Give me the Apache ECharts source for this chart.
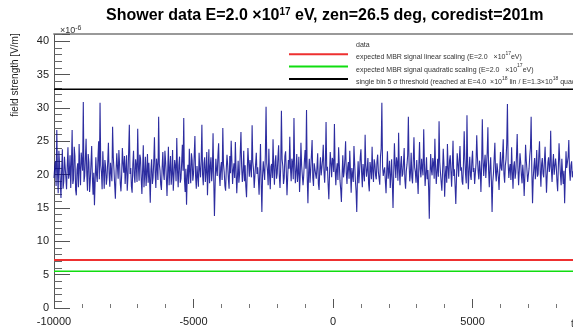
<!DOCTYPE html>
<html>
<head>
<meta charset="utf-8">
<script src="https://cdn.jsdelivr.net/npm/echarts@6/dist/echarts.min.js"></script>
<style>
  html, body { margin: 0; padding: 0; background: #fff; }
  #chart { width: 573px; height: 334px; }
</style>
</head>
<body>
<div id="chart"></div>
<script>
// sampled field strength trace (x 1e-6 V/m), one value every 25 time units
var tStart = -10000;
var tStep = 25;
var tEnd = 8600;
var fieldValues = [
  19.5, 21.1, 22.0, 18.3, 26.7, 20.4, 17.2, 23.6, 21.5, 18.8, 16.5, 20.9, 23.8, 17.9, 19.0, 22.7, 22.4, 19.6, 17.8, 21.3,
  24.1, 19.4, 20.2, 22.9, 18.0, 21.5, 26.7, 18.6, 19.3, 24.2, 22.8, 17.7, 16.9, 20.8, 21.7, 18.1, 24.6, 21.0, 18.4, 23.3,
  23.0, 20.6, 30.9, 18.9, 19.8, 22.4, 25.4, 20.1, 17.6, 23.1, 21.9, 17.4, 19.1, 21.6, 24.3, 19.7, 17.0, 20.3, 15.4, 19.2,
  22.6, 20.0, 18.9, 22.5, 25.0, 19.3, 30.8, 21.4, 20.4, 17.8, 23.5, 20.7, 17.9, 22.2, 21.2, 18.5, 19.6, 21.9, 24.8, 20.2,
  18.2, 21.8, 22.1, 19.0, 27.2, 22.6, 20.7, 18.4, 16.4, 20.5, 23.2, 21.1, 19.4, 23.7, 21.6, 18.7, 17.5, 20.0, 24.0, 21.7,
  20.3, 22.8, 18.6, 20.9, 22.9, 17.6, 19.7, 23.4, 27.5, 20.1, 21.0, 18.2, 17.3, 21.5, 23.6, 19.9, 18.8, 22.3, 21.4, 18.9,
  26.9, 21.2, 19.1, 23.0, 22.5, 19.5, 17.1, 20.6, 24.4, 18.1, 20.0, 22.7, 18.3, 20.4, 23.1, 18.8, 21.8, 19.4, 15.8, 20.8,
  22.3, 18.6, 19.5, 21.9, 25.6, 20.3, 18.0, 22.4, 21.1, 19.2, 28.7, 21.6, 20.6, 18.5, 17.7, 21.0, 23.4, 20.2, 19.2, 23.6,
  22.0, 19.7, 16.8, 20.5, 24.2, 18.4, 20.9, 22.8, 18.5, 20.1, 23.7, 17.6, 19.9, 22.2, 21.3, 19.0, 25.5, 20.7, 18.1, 21.4,
  22.7, 18.8, 19.4, 21.8, 24.5, 20.6, 28.5, 19.3, 17.4, 20.9, 15.5, 19.8, 21.5, 18.6, 23.9, 20.4, 18.7, 23.2, 22.2, 19.1,
  20.1, 22.9, 25.8, 19.7, 17.9, 21.3, 21.0, 18.2, 23.3, 20.8, 19.6, 22.1, 27.5, 20.0, 18.4, 21.7, 22.6, 18.9, 20.5, 23.4,
  16.9, 20.3, 23.8, 18.7, 21.2, 22.6, 19.0, 20.6, 26.2, 19.4, 13.8, 18.5, 22.4, 20.7, 19.8, 22.9, 24.7, 19.9, 18.3, 21.1,
  21.9, 19.2, 27.0, 21.5, 20.4, 18.3, 17.6, 20.9, 23.0, 21.4, 19.3, 17.9, 22.8, 20.2, 25.1, 22.0, 18.6, 20.7, 21.7, 19.5,
  24.9, 20.6, 17.2, 19.8, 22.1, 18.8, 20.0, 23.3, 26.4, 21.2, 18.9, 20.5, 23.6, 19.0, 21.4, 18.2, 16.6, 20.4, 24.0, 21.8,
  19.7, 22.2, 22.5, 19.6, 27.4, 21.9, 20.8, 18.0, 18.2, 21.6, 23.3, 20.1, 21.1, 19.3, 17.0, 20.6, 24.6, 18.7, 14.4, 19.9,
  22.0, 20.5, 19.2, 23.1, 30.2, 21.7, 20.6, 18.4, 23.9, 20.0, 17.8, 21.2, 21.6, 19.5, 25.3, 20.8, 18.5, 21.9, 22.9, 19.4,
  20.2, 22.6, 24.4, 19.8, 18.0, 21.1, 29.6, 22.3, 21.3, 18.6, 19.5, 22.8, 23.5, 20.4, 16.9, 19.7, 22.2, 20.9, 25.7, 21.0,
  19.0, 22.4, 21.8, 19.3, 28.5, 21.5, 18.7, 20.6, 23.1, 18.9, 20.3, 22.7, 17.4, 20.0, 24.8, 21.3, 21.0, 18.4, 19.9, 22.1,
  23.7, 20.9, 29.7, 19.6, 15.7, 20.3, 22.4, 18.8, 20.7, 22.9, 25.2, 19.5, 18.3, 21.7, 21.5, 20.1, 19.4, 21.2, 23.2, 18.6,
  17.7, 20.8, 22.6, 19.9, 20.0, 22.2, 24.5, 20.5, 18.8, 21.4, 27.9, 20.6, 21.2, 18.5, 16.3, 20.2, 23.4, 21.8, 19.6, 22.5,
  22.1, 20.4, 27.6, 21.0, 18.4, 20.7, 21.7, 19.2, 24.1, 21.5, 19.1, 17.8, 15.9, 20.0, 22.9, 19.6, 20.5, 22.4, 25.0, 20.3,
  18.6, 21.1, 21.9, 19.4, 23.6, 20.6, 17.3, 21.0, 20.8, 18.9, 24.3, 21.7, 19.2, 17.6, 14.4, 19.5, 22.0, 18.7, 20.4, 22.6,
  23.8, 20.2, 18.1, 21.6, 21.4, 19.0, 26.0, 21.3, 19.7, 20.8, 22.5, 18.6, 17.5, 21.9, 20.9, 19.3, 24.2, 20.5, 18.9, 22.3,
  21.6, 19.9, 19.3, 22.0, 23.0, 20.4, 20.2, 18.5, 22.7, 23.9, 30.8, 21.2, 19.8, 20.6, 21.1, 19.0, 17.2, 20.7, 23.5, 19.4,
  20.6, 22.1, 18.0, 19.8, 22.3, 18.7, 15.0, 20.3, 24.7, 21.4, 19.5, 22.6, 21.8, 19.1, 26.3, 20.9, 18.4, 21.5, 22.8, 19.7,
  20.1, 21.7, 24.0, 19.2, 17.9, 20.5, 21.5, 22.9, 28.7, 21.8, 19.0, 20.3, 23.3, 19.6, 18.7, 22.0, 25.6, 21.1, 20.4, 18.8,
  22.2, 19.5, 17.1, 21.3, 24.9, 20.8, 19.6, 22.4, 21.0, 19.9, 26.8, 21.6, 18.3, 20.2, 22.6, 19.3, 20.7, 18.1, 13.4, 19.8,
  23.1, 20.7, 19.9, 22.5, 21.7, 19.4, 25.4, 21.2, 18.6, 20.6, 22.4, 19.7, 28.0, 21.9, 20.3, 18.9, 17.6, 20.4, 23.9, 21.5,
  16.7, 20.0, 21.3, 18.8, 24.6, 21.0, 19.4, 22.1, 22.9, 20.5, 18.2, 21.4, 25.1, 19.8, 20.8, 18.3, 15.6, 19.6, 23.2, 21.7,
  19.7, 22.2, 24.3, 20.6, 21.1, 19.0, 18.5, 21.8, 26.5, 22.3, 20.0, 18.7, 28.9, 21.4, 17.8, 20.9, 22.7, 19.9, 19.2, 22.0,
  23.6, 20.4, 21.0, 18.6, 18.9, 21.7, 25.9, 22.6, 20.5, 19.3, 22.1, 20.8, 17.4, 21.1, 28.3, 22.4, 19.8, 21.6, 23.0, 19.5,
  21.4, 23.3, 27.1, 20.7, 18.1, 21.2, 22.6, 19.1, 14.4, 18.9, 20.2, 22.5, 24.8, 20.3, 19.0, 21.7, 21.9, 19.6, 17.7, 20.8,
  23.4, 21.0, 20.6, 22.7, 25.3, 20.1, 18.8, 21.4, 22.3, 24.6, 30.6, 21.8, 19.5, 20.9, 21.6, 19.2, 24.1, 20.5, 17.9, 21.3,
  22.0, 19.4, 20.3, 22.8, 26.1, 21.1, 18.4, 20.6, 23.2, 21.9, 19.9, 18.7, 21.5, 20.0, 16.8, 19.8, 24.5, 22.2, 20.7, 18.9,
  18.6, 20.9, 22.8, 24.0, 28.7, 20.4, 15.7, 19.5, 21.2, 22.5, 19.3, 21.0, 23.7, 19.7, 20.1, 22.9, 25.0, 20.6, 18.2, 21.6,
  22.5, 20.2, 19.6, 22.0, 24.2, 20.7, 17.3, 19.9, 21.8, 22.6, 20.4, 21.3, 26.6, 20.8, 18.9, 21.5, 23.1, 20.0, 19.7, 22.4,
  21.3, 19.0, 17.5, 21.2, 24.7, 22.1, 20.0, 18.4, 22.4, 20.3, 18.6, 20.6, 15.7, 19.8, 23.5, 21.0, 20.9, 22.7, 25.2, 20.5,
  19.1, 21.4, 22.0, 19.6, 20.5
];

// constant reference levels (x 1e-6 V/m)
var linearLevel = 7.2;
var quadraticLevel = 5.5;
var thresholdLevel = 32.8;

var legendTexts = {
  data: 'data',
  linear: 'expected MBR signal linear scaling (E=2.0   \u00d710{s|17}eV)',
  quadratic: 'expected MBR signal quadratic scaling (E=2.0   \u00d710{s|17}eV)',
  threshold: 'single bin 5 \u03c3 threshold (reached at E=4.0  \u00d710{s|18} lin / E=1.3\u00d710{s|18} quad)'
};

var font = 'Liberation Sans, Arial, sans-serif';

var tracePoints = fieldValues.map(function (v, i) {
  return [tStart + i * tStep, v];
});
function flat(level) {
  return [[tStart, level], [tEnd, level]];
}

var chart = echarts.init(document.getElementById('chart'));
chart.setOption({
  animation: false,
  backgroundColor: '#fff',
  textStyle: { fontFamily: font },
  title: [
    {
      text: 'Shower data E=2.0 \u00d710{s|17} eV, zen=26.5 deg, coredist=201m',
      left: 101,
      top: 2,
      textStyle: {
        fontFamily: font,
        fontSize: 16,
        fontWeight: 'bold',
        color: '#000',
        rich: {
          s: { fontSize: 10, fontWeight: 'bold', verticalAlign: 'top', lineHeight: 18, fontFamily: font }
        }
      }
    },
    {
      text: '\u00d710{s|-6}',
      left: 55,
      top: 20,
      textStyle: {
        fontFamily: font,
        fontSize: 9,
        fontWeight: 'normal',
        color: '#333',
        rich: { s: { fontSize: 7, verticalAlign: 'top', lineHeight: 12, fontFamily: font, color: '#333' } }
      }
    },
    {
      text: 't',
      left: 566,
      top: 314,
      textStyle: { fontFamily: font, fontSize: 10, fontWeight: 'normal', color: '#333' }
    }
  ],
  graphic: [
    {
      type: 'text',
      x: 15,
      y: 75,
      rotation: Math.PI / 2,
      style: {
        text: 'field strength [V/m]',
        font: '10px ' + font,
        fill: '#222',
        align: 'center',
        verticalAlign: 'middle'
      }
    }
  ],
  legend: {
    orient: 'vertical',
    left: 284,
    top: 28,
    itemWidth: 59,
    itemHeight: 2,
    itemGap: -5.7,
    icon: 'rect',
    selectedMode: false,
    data: [
      { name: 'data', itemStyle: { color: 'rgba(0,0,0,0)' } },
      'linear', 'quadratic', 'threshold'
    ],
    formatter: function (name) { return legendTexts[name]; },
    textStyle: {
      fontFamily: font,
      fontSize: 7,
      color: '#333',
      lineHeight: 12,
      padding: [6, 0, 0, 3],
      rich: { s: { fontSize: 5, verticalAlign: 'top', lineHeight: 10, fontFamily: font, color: '#333' } }
    }
  },
  grid: { left: 54, right: 0, top: 34, bottom: 26 },
  xAxis: [
    {
      type: 'value',
      min: tStart,
      max: tEnd,
      interval: 5000,
      splitLine: { show: false },
      axisLine: { show: false },
      axisTick: { show: true, inside: true, length: 9, lineStyle: { color: '#555' } },
      minorTick: { show: true, splitNumber: 5, length: 4, lineStyle: { color: '#777' } },
      axisLabel: {
        fontSize: 11, color: '#222', margin: 8, showMaxLabel: false, fontFamily: font,
        formatter: function (v) { return String(v); }
      }
    },
    {
      type: 'value',
      position: 'top',
      min: tStart,
      max: tEnd,
      splitLine: { show: false },
      axisLine: { show: true, onZero: false, lineStyle: { color: '#999', width: 2 } },
      axisTick: { show: false },
      axisLabel: { show: false }
    }
  ],
  yAxis: {
    type: 'value',
    min: 0,
    max: 41.1,
    interval: 5,
    splitLine: { show: false },
    axisLine: { show: true, onZero: false, lineStyle: { color: '#555', width: 1 } },
    axisTick: { show: true, inside: true, length: 16, lineStyle: { color: '#555' } },
    minorTick: { show: true, splitNumber: 5, length: 8, lineStyle: { color: '#666' } },
    axisLabel: { fontSize: 11, color: '#222', margin: 5, showMaxLabel: false, fontFamily: font }
  },
  series: [
    {
      name: 'data',
      type: 'line',
      data: tracePoints,
      showSymbol: false,
      symbol: 'none',
      lineStyle: { color: '#08088f', width: 1.1, opacity: 0.85 },
      itemStyle: { color: '#08088f' },
      z: 3
    },
    {
      name: 'linear',
      type: 'line',
      data: flat(linearLevel),
      symbol: 'none',
      lineStyle: { color: '#ee3030', width: 2 },
      itemStyle: { color: '#ee3030' }
    },
    {
      name: 'quadratic',
      type: 'line',
      data: flat(quadraticLevel),
      symbol: 'none',
      lineStyle: { color: '#10dd10', width: 1.5 },
      itemStyle: { color: '#10dd10' }
    },
    {
      name: 'threshold',
      type: 'line',
      data: flat(thresholdLevel),
      symbol: 'none',
      lineStyle: { color: '#000', width: 1.5 },
      itemStyle: { color: '#000' }
    }
  ]
});
</script>
</body>
</html>
